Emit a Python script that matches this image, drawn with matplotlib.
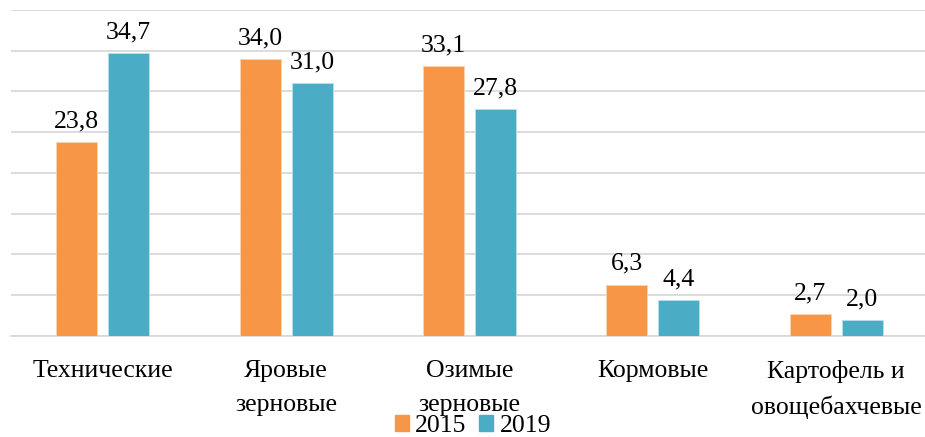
import numpy as np
import matplotlib
matplotlib.use("Agg")
import matplotlib.pyplot as plt
from matplotlib.patches import Patch

categories = ["Технические", "Яровые\nзерновые", "Озимые\nзерновые", "Кормовые",
              "Картофель и\nовощебахчевые"]
years = ["2015", "2019"]
values_2015 = [23.8, 34.0, 33.1, 6.3, 2.7]
values_2019 = [34.7, 31.0, 27.8, 4.4, 2.0]

ORANGE = "#F79646"
TEAL = "#4BACC6"
FS = 18.5

plt.rcParams["font.family"] = ["Liberation Serif", "DejaVu Serif"]

fig = plt.figure(figsize=(9.25, 4.37), dpi=100)
ax = fig.add_axes([11 / 925, 1 - 336 / 437, 917 / 925, 326 / 437])

x = np.arange(len(categories))
w = 0.223
off = 0.142
b1 = ax.bar(x - off, values_2015, w, color=ORANGE, edgecolor="#FBD2B0", linewidth=0.6, zorder=3)
b2 = ax.bar(x + off, values_2019, w, color=TEAL, edgecolor="#B9E0EA", linewidth=0.6, zorder=3)

for bars, vals in ((b1, values_2015), (b2, values_2019)):
    for r, v in zip(bars, vals):
        ax.annotate(f"{v:.1f}".replace(".", ","), (r.get_x() + r.get_width() / 2, v),
                    xytext=(0, 7), textcoords="offset points",
                    ha="center", va="bottom", fontsize=FS)

ax.set_xlim(-0.5, len(categories) - 0.5)
ax.set_ylim(0, 40)
ax.set_yticks(np.arange(0, 41, 5))
ax.yaxis.grid(True, color="#D9D9D9", linewidth=1.3, zorder=0)
ax.set_yticklabels([])
ax.tick_params(axis="y", length=0)
ax.set_xticks(x)
ax.set_xticklabels(categories, fontsize=FS, linespacing=1.7)
ax.tick_params(axis="x", length=0, pad=17)
for s in ("top", "right", "left"):
    ax.spines[s].set_visible(False)
ax.spines["bottom"].set_color("#D9D9D9")
ax.spines["bottom"].set_linewidth(1.3)

handles = [Patch(color=ORANGE), Patch(color=TEAL)]
fig.legend(handles, years, loc="center", bbox_to_anchor=(473 / 925, 1 - 426 / 437),
           ncol=2, frameon=False, fontsize=FS, handlelength=0.55, handleheight=0.55,
           handletextpad=0.25, columnspacing=0.5, borderpad=0)

fig.savefig("out.png", dpi=100)
